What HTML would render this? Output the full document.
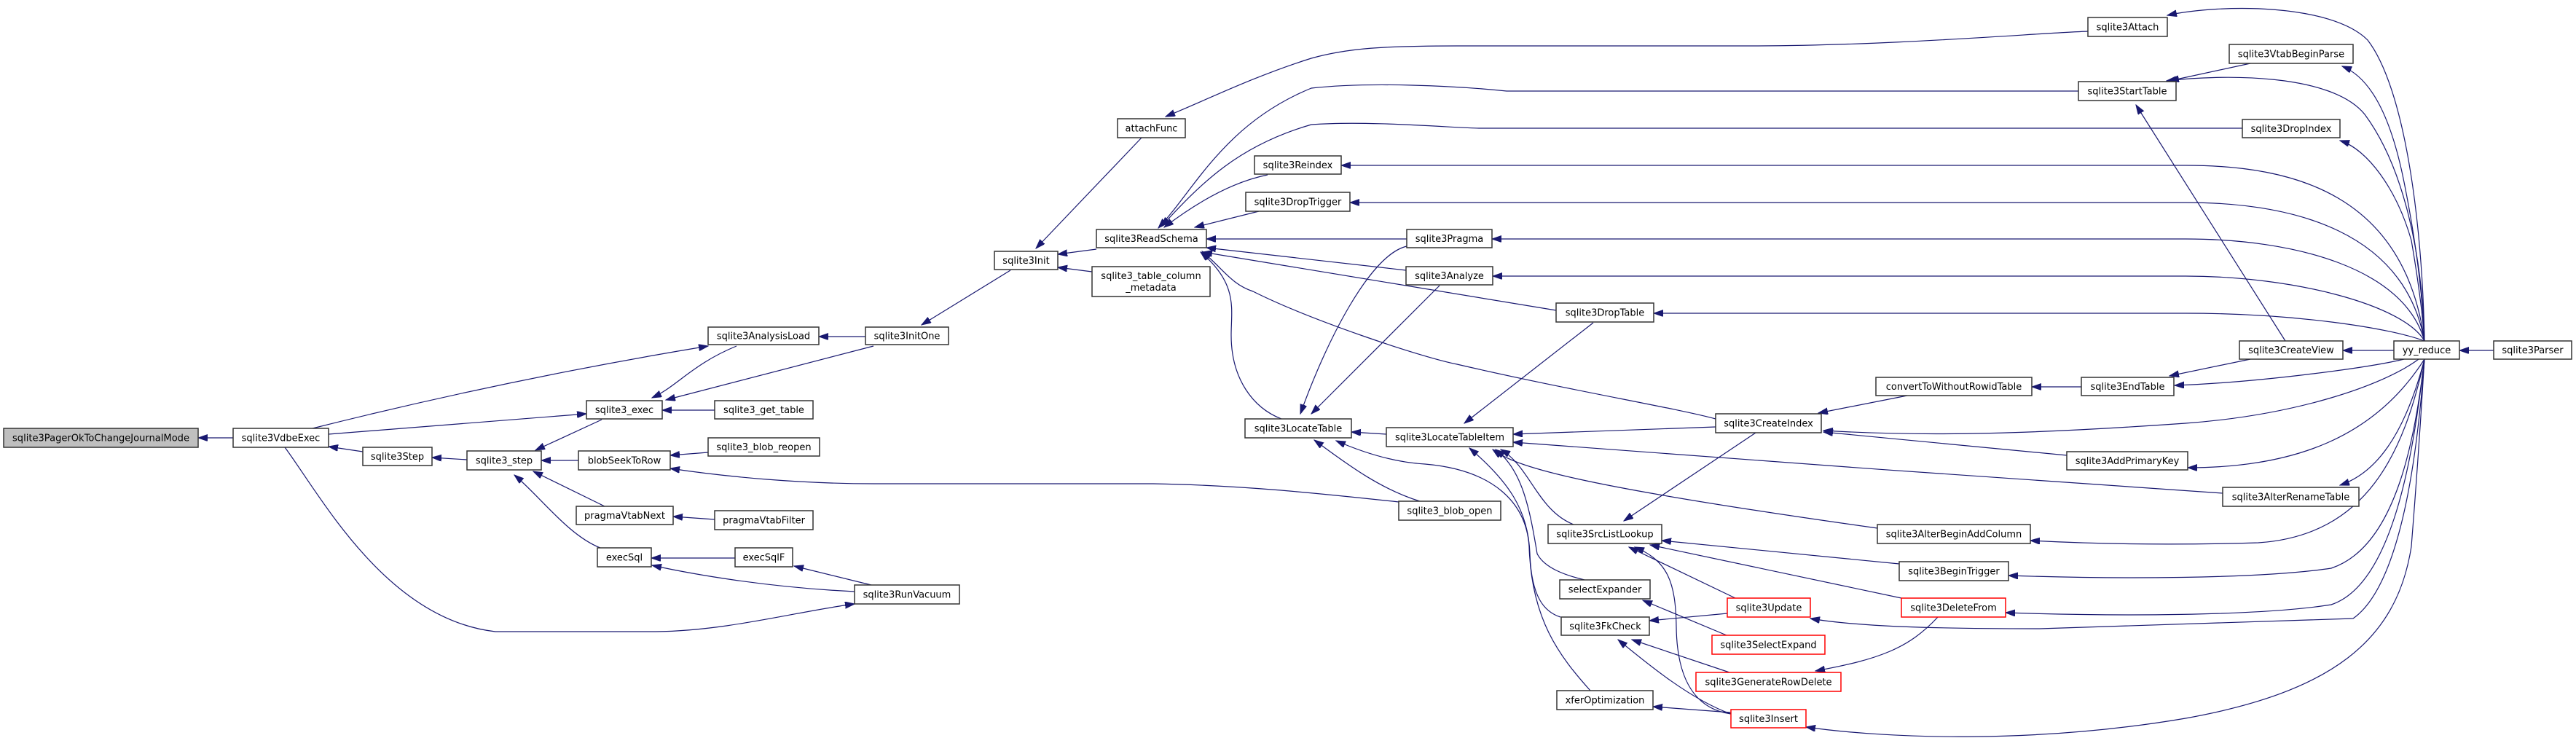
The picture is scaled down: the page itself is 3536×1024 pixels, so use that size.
<!DOCTYPE html>
<html><head><meta charset="utf-8"><style>
html,body{margin:0;padding:0;background:#fff;}
svg{display:block;}
text{font-family:"DejaVu Sans","Liberation Sans",sans-serif;font-size:13px;fill:#000;}
.n{fill:#fff;stroke:#333;stroke-width:1.5;}
.r{fill:#fff;stroke:#f00;stroke-width:1.5;}
.e{fill:none;stroke:#191970;stroke-width:1.2;marker-start:url(#a);}
</style></head><body>
<svg width="3536" height="1024" viewBox="0 0 3536 1024" xmlns="http://www.w3.org/2000/svg">
<defs><marker id="a" markerUnits="userSpaceOnUse" markerWidth="14" markerHeight="10" refX="13" refY="4.5" orient="auto-start-reverse"><path d="M0,0 L13,4.5 L0,9 z" fill="#191970" stroke="#191970"/></marker></defs>
<g>
<path class="e" d="M272,601 L320,601"/>
<path class="e" d="M451,613 L498,620"/>
<path class="e" d="M972,475 Q700,520 429,588"/>
<path class="e" d="M805,568 L451,596"/>
<path class="e" d="M1173,829 C1100,838 1000,866 900,867 L680,867 C530,850 440,680 391,614"/>
<path class="e" d="M593,628 L641,631"/>
<path class="e" d="M735,618 L826,576"/>
<path class="e" d="M743,632 L794,632"/>
<path class="e" d="M732,647 L830,695"/>
<path class="e" d="M706,652 C740,680 780,735 824,752"/>
<path class="e" d="M895,546 C930,530 950,500 1011,475"/>
<path class="e" d="M914,549 L1199,475"/>
<path class="e" d="M909,563 L981,563"/>
<path class="e" d="M920,625 L972,621"/>
<path class="e" d="M920,643 C1000,655 1100,664 1200,664 L1583,664 C1700,666 1800,676 1920,689"/>
<path class="e" d="M924,709 L981,713"/>
<path class="e" d="M894,766 L1009,766"/>
<path class="e" d="M895,776 C950,788 1050,806 1173,812"/>
<path class="e" d="M1090,777 L1200,804"/>
<path class="e" d="M1124,462 L1188,462"/>
<path class="e" d="M1265,446 L1387,371"/>
<path class="e" d="M1422,341 L1567,189"/>
<path class="e" d="M1452,349 L1505,342"/>
<path class="e" d="M1452,367 L1499,373"/>
<path class="e" d="M1600,160 C1650,140 1720,105 1800,80 C1850,66 1900,63 2000,63 L2400,63 C2600,63 2800,45 2866,43"/>
<path class="e" d="M1590,313 C1640,260 1680,170 1800,121 C1880,112 2000,118 2068,125 L2853,125"/>
<path class="e" d="M1594,311 C1650,250 1700,200 1800,171 C1880,165 2000,176 2030,176 L3078,176"/>
<path class="e" d="M1598,312 C1640,280 1690,250 1740,240"/>
<path class="e" d="M1640,312 L1728,290"/>
<path class="e" d="M1656,328 L1931,328"/>
<path class="e" d="M1656,340 L1930,371"/>
<path class="e" d="M1651,346 L2136,426"/>
<path class="e" d="M1650,345 C1680,370 1690,390 1720,400 C1800,440 1950,490 2000,500 C2150,535 2300,560 2355,575"/>
<path class="e" d="M1648,346 C1700,390 1690,424 1690,460 C1690,520 1720,560 1759,575"/>
<path class="e" d="M1785,568 C1820,470 1880,350 1931,338"/>
<path class="e" d="M1800,568 L1976,392"/>
<path class="e" d="M1855,593 L1903,596"/>
<path class="e" d="M1804,604 C1840,630 1890,670 1949,688"/>
<path class="e" d="M1834,605 C1880,625 1920,635 1956,637 C2050,645 2095,690 2099,750 C2102,850 2140,900 2183,948"/>
<path class="e" d="M2010,581 L2187,443"/>
<path class="e" d="M2077,596 L2355,586"/>
<path class="e" d="M2077,607 C2300,625 2800,660 3051,677"/>
<path class="e" d="M2049,617 C2080,640 2150,665 2577,725"/>
<path class="e" d="M2060,617 C2100,640 2110,700 2160,720"/>
<path class="e" d="M2053,617 C2090,645 2100,700 2110,760 C2120,780 2150,790 2175,796"/>
<path class="e" d="M2017,615 C2070,660 2098,700 2100,760 C2102,820 2120,840 2142,847"/>
<path class="e" d="M2229,715 L2410,594"/>
<path class="e" d="M2281,742 L2607,774"/>
<path class="e" d="M2265,748 L2610,821"/>
<path class="e" d="M2236,751 L2382,821"/>
<path class="e" d="M2244,751 C2290,770 2300,800 2301,860 C2302,950 2340,975 2376,980"/>
<path class="e" d="M2255,824 L2370,872"/>
<path class="e" d="M2264,852 L2371,842"/>
<path class="e" d="M2240,878 L2374,923"/>
<path class="e" d="M2221,878 C2260,910 2320,960 2376,980"/>
<path class="e" d="M2269,970 L2376,978"/>
<path class="e" d="M2492,921 C2580,905 2620,890 2660,847"/>
<path class="e" d="M2496,567 L2618,543"/>
<path class="e" d="M2789,531 L2857,531"/>
<path class="e" d="M2978,516 L3089,493"/>
<path class="e" d="M2932,144 L3137,468"/>
<path class="e" d="M2978,111 L3089,87"/>
<path class="e" d="M3216,481 L3286,481"/>
<path class="e" d="M3376,481 L3423,481"/>
<path class="e" d="M2503,591 C2650,600 2800,595 3000,581 C3150,570 3270,530 3320,493"/>
<path class="e" d="M2503,593 L2837,625"/>
<path class="e" d="M2975,21 C3050,5 3200,5 3250,55 C3300,120 3325,300 3328,468"/>
<path class="e" d="M2974,111 C3050,102 3200,100 3246,157 C3300,230 3325,350 3328,468"/>
<path class="e" d="M3215,91 C3250,105 3280,150 3300,250 C3320,350 3326,420 3328,468"/>
<path class="e" d="M3212,193 C3250,205 3290,260 3310,330 C3322,400 3326,440 3328,468"/>
<path class="e" d="M1841,227 L3000,227 C3150,227 3300,267 3328,468"/>
<path class="e" d="M1853,278 L3000,278 C3150,278 3300,318 3328,468"/>
<path class="e" d="M2048,328 L3000,328 C3150,328 3300,368 3328,468"/>
<path class="e" d="M2049,379 L3000,379 C3150,379 3300,419 3328,468"/>
<path class="e" d="M2270,430 L3000,430 C3150,430 3280,450 3328,468"/>
<path class="e" d="M2985,529 C3100,525 3250,505 3300,493"/>
<path class="e" d="M3003,642 C3150,642 3260,600 3328,493"/>
<path class="e" d="M3212,666 C3260,650 3300,600 3328,493"/>
<path class="e" d="M2787,742 C2900,748 3000,748 3100,745 C3250,735 3300,620 3328,493"/>
<path class="e" d="M2757,790 C2900,795 3100,795 3200,780 C3290,750 3315,600 3328,493"/>
<path class="e" d="M2753,841 C2900,846 3100,846 3200,830 C3290,800 3315,600 3328,493"/>
<path class="e" d="M2485,849 C2550,860 2650,863 2800,863 L3230,849 C3300,800 3320,600 3328,493"/>
<path class="e" d="M2479,998 C2600,1015 2800,1020 3000,986 C3200,950 3290,880 3310,750 C3322,600 3326,520 3328,493"/>
</g>
<g>
<rect x="5" y="588" width="267" height="26" fill="#bfbfbf" stroke="#333" stroke-width="1.5"/><text x="138.5" y="605.5" text-anchor="middle" textLength="243" lengthAdjust="spacingAndGlyphs">sqlite3PagerOkToChangeJournalMode</text>
<rect class="n" x="320" y="588" width="131" height="26"/><text x="385.5" y="605.5" text-anchor="middle">sqlite3VdbeExec</text>
<rect class="n" x="498" y="614" width="95" height="25"/><text x="545.5" y="631" text-anchor="middle">sqlite3Step</text>
<rect class="n" x="972" y="449" width="152" height="24"/><text x="1048" y="465.5" text-anchor="middle">sqlite3AnalysisLoad</text>
<rect class="n" x="805" y="550" width="104" height="25"/><text x="857" y="567" text-anchor="middle">sqlite3_exec</text>
<rect class="n" x="981" y="550" width="135" height="25"/><text x="1048.5" y="567" text-anchor="middle">sqlite3_get_table</text>
<rect class="n" x="972" y="601" width="153" height="25"/><text x="1048.5" y="618" text-anchor="middle">sqlite3_blob_reopen</text>
<rect class="n" x="641" y="619" width="102" height="26"/><text x="692" y="636.5" text-anchor="middle">sqlite3_step</text>
<rect class="n" x="794" y="619" width="126" height="26"/><text x="857" y="636.5" text-anchor="middle">blobSeekToRow</text>
<rect class="n" x="791" y="695" width="133" height="25"/><text x="857.5" y="712" text-anchor="middle">pragmaVtabNext</text>
<rect class="n" x="981" y="701" width="135" height="26"/><text x="1048.5" y="718.5" text-anchor="middle">pragmaVtabFilter</text>
<rect class="n" x="820" y="752" width="74" height="26"/><text x="857" y="769.5" text-anchor="middle">execSql</text>
<rect class="n" x="1009" y="752" width="79" height="26"/><text x="1048.5" y="769.5" text-anchor="middle">execSqlF</text>
<rect class="n" x="1173" y="803" width="144" height="26"/><text x="1245" y="820.5" text-anchor="middle">sqlite3RunVacuum</text>
<rect class="n" x="1188" y="449" width="114" height="24"/><text x="1245" y="465.5" text-anchor="middle">sqlite3InitOne</text>
<rect class="n" x="1534" y="163" width="93" height="26"/><text x="1580.5" y="180.5" text-anchor="middle">attachFunc</text>
<rect class="n" x="1365" y="345" width="87" height="25"/><text x="1408.5" y="362" text-anchor="middle">sqlite3Init</text>
<rect class="n" x="1505" y="315" width="151" height="25"/><text x="1580.5" y="332" text-anchor="middle">sqlite3ReadSchema</text>
<rect class="n" x="1499" y="366" width="162" height="41"/><text x="1580" y="383" text-anchor="middle">sqlite3_table_column</text><text x="1580" y="399" text-anchor="middle">_metadata</text>
<rect class="n" x="1722" y="214" width="119" height="25"/><text x="1781.5" y="231" text-anchor="middle">sqlite3Reindex</text>
<rect class="n" x="1710" y="264" width="143" height="26"/><text x="1781.5" y="281.5" text-anchor="middle">sqlite3DropTrigger</text>
<rect class="n" x="1709" y="575" width="146" height="26"/><text x="1782" y="592.5" text-anchor="middle">sqlite3LocateTable</text>
<rect class="n" x="1931" y="315" width="117" height="25"/><text x="1989.5" y="332" text-anchor="middle">sqlite3Pragma</text>
<rect class="n" x="1930" y="366" width="119" height="25"/><text x="1989.5" y="383" text-anchor="middle">sqlite3Analyze</text>
<rect class="n" x="2136" y="416" width="134" height="26"/><text x="2203" y="433.5" text-anchor="middle">sqlite3DropTable</text>
<rect class="n" x="1903" y="587" width="174" height="26"/><text x="1990" y="604.5" text-anchor="middle">sqlite3LocateTableItem</text>
<rect class="n" x="1920" y="688" width="140" height="26"/><text x="1990" y="705.5" text-anchor="middle">sqlite3_blob_open</text>
<rect class="n" x="2125" y="720" width="156" height="26"/><text x="2203" y="737.5" text-anchor="middle">sqlite3SrcListLookup</text>
<rect class="n" x="2141" y="796" width="124" height="26"/><text x="2203" y="813.5" text-anchor="middle">selectExpander</text>
<rect class="n" x="2143" y="847" width="121" height="25"/><text x="2203.5" y="864" text-anchor="middle">sqlite3FkCheck</text>
<rect class="n" x="2137" y="948" width="132" height="26"/><text x="2203" y="965.5" text-anchor="middle">xferOptimization</text>
<rect class="n" x="2355" y="568" width="145" height="26"/><text x="2427.5" y="585.5" text-anchor="middle">sqlite3CreateIndex</text>
<rect class="r" x="2371" y="821" width="114" height="26"/><text x="2428" y="838.5" text-anchor="middle">sqlite3Update</text>
<rect class="r" x="2350" y="872" width="155" height="26"/><text x="2427.5" y="889.5" text-anchor="middle">sqlite3SelectExpand</text>
<rect class="r" x="2328" y="923" width="199" height="26"/><text x="2427.5" y="940.5" text-anchor="middle">sqlite3GenerateRowDelete</text>
<rect class="r" x="2376" y="974" width="103" height="25"/><text x="2427.5" y="991" text-anchor="middle">sqlite3Insert</text>
<rect class="n" x="2866" y="24" width="109" height="26"/><text x="2920.5" y="41.5" text-anchor="middle">sqlite3Attach</text>
<rect class="n" x="2853" y="112" width="134" height="26"/><text x="2920" y="129.5" text-anchor="middle">sqlite3StartTable</text>
<rect class="n" x="2575" y="518" width="214" height="25"/><text x="2682" y="535" text-anchor="middle">convertToWithoutRowidTable</text>
<rect class="n" x="2857" y="518" width="127" height="25"/><text x="2920.5" y="535" text-anchor="middle">sqlite3EndTable</text>
<rect class="n" x="2837" y="620" width="166" height="25"/><text x="2920" y="637" text-anchor="middle">sqlite3AddPrimaryKey</text>
<rect class="n" x="2577" y="720" width="210" height="26"/><text x="2682" y="737.5" text-anchor="middle">sqlite3AlterBeginAddColumn</text>
<rect class="n" x="2607" y="771" width="150" height="26"/><text x="2682" y="788.5" text-anchor="middle">sqlite3BeginTrigger</text>
<rect class="r" x="2610" y="821" width="143" height="26"/><text x="2681.5" y="838.5" text-anchor="middle">sqlite3DeleteFrom</text>
<rect class="n" x="3060" y="61" width="170" height="26"/><text x="3145" y="78.5" text-anchor="middle">sqlite3VtabBeginParse</text>
<rect class="n" x="3078" y="164" width="134" height="25"/><text x="3145" y="181" text-anchor="middle">sqlite3DropIndex</text>
<rect class="n" x="3074" y="468" width="142" height="25"/><text x="3145" y="485" text-anchor="middle">sqlite3CreateView</text>
<rect class="n" x="3286" y="468" width="90" height="25"/><text x="3331" y="485" text-anchor="middle">yy_reduce</text>
<rect class="n" x="3423" y="468" width="107" height="25"/><text x="3476.5" y="485" text-anchor="middle">sqlite3Parser</text>
<rect class="n" x="3051" y="669" width="187" height="26"/><text x="3144.5" y="686.5" text-anchor="middle">sqlite3AlterRenameTable</text>
</g>
</svg>
</body></html>
